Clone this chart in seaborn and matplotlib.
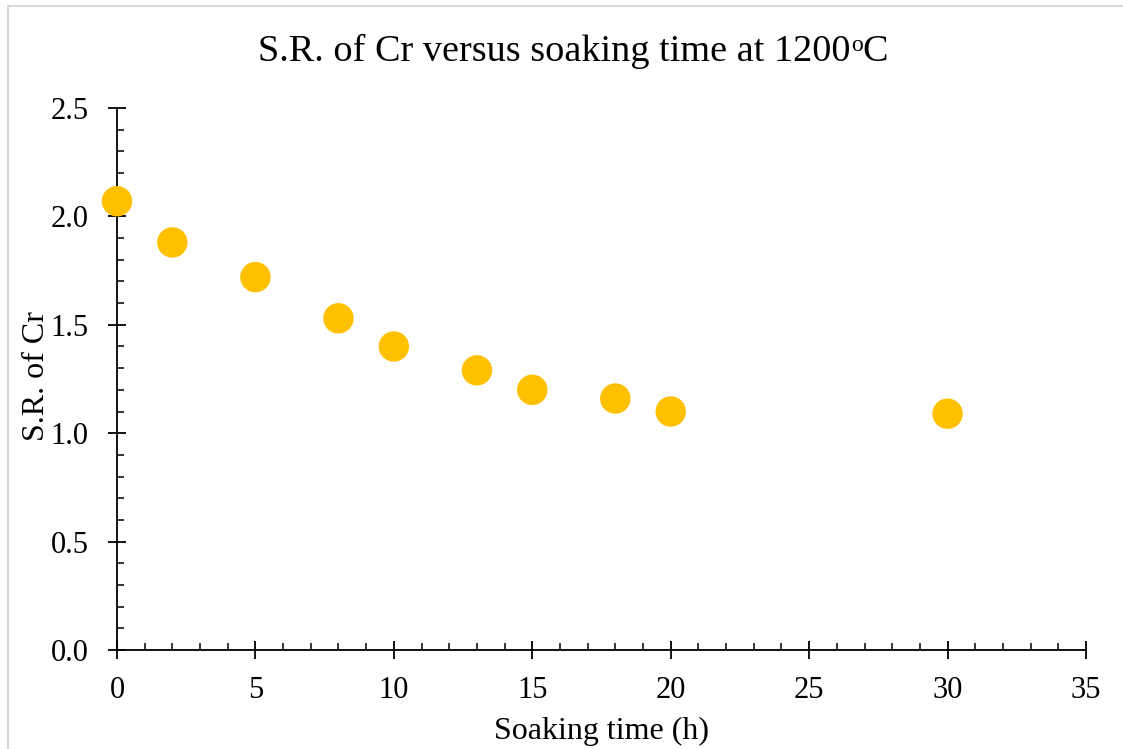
import matplotlib
matplotlib.use("Agg")
import matplotlib.pyplot as plt
import seaborn as sns
import pandas as pd
from matplotlib.ticker import MultipleLocator, FormatStrFormatter
from matplotlib.lines import Line2D

soaking_time = [0, 2, 5, 8, 10, 13, 15, 18, 20, 30]
sr_cr = [2.07, 1.88, 1.72, 1.53, 1.40, 1.29, 1.20, 1.16, 1.10, 1.09]

title_main = "S.R. of Cr versus soaking time at 1200"
title_sup = "o"
title_end = "C"
xlabel = "Soaking time (h)"
ylabel = "S.R. of Cr"

sns.set_theme(style="white")
plt.rcParams['font.family'] = ['Liberation Serif', 'DejaVu Serif']

df = pd.DataFrame({"t": soaking_time, "sr": sr_cr})

W, H = 1123, 749
fig = plt.figure(figsize=(W/100, H/100), dpi=100)
fig.patch.set_facecolor("white")
ax = fig.add_axes([117/W, 1-650/H, (1086-117)/W, (650-108)/H])

sns.scatterplot(data=df, x="t", y="sr", ax=ax, s=480, color="#FFC000",
                edgecolor="none", linewidth=0, clip_on=False, zorder=5)

ax.set_xlim(0, 35)
ax.set_ylim(0, 2.5)
ax.xaxis.set_major_locator(MultipleLocator(5))
ax.xaxis.set_minor_locator(MultipleLocator(1))
ax.yaxis.set_major_locator(MultipleLocator(0.5))
ax.yaxis.set_minor_locator(MultipleLocator(0.1))
ax.yaxis.set_major_formatter(FormatStrFormatter('%.1f'))

for s in ["top", "right"]:
    ax.spines[s].set_visible(False)
for s in ["left", "bottom"]:
    ax.spines[s].set_color("black")
    ax.spines[s].set_linewidth(1.3)

ax.tick_params(which="major", direction="inout", length=13, width=1.3,
               color="black", labelsize=22, labelcolor="black",
               bottom=True, left=True)
ax.tick_params(axis="y", which="major", pad=14)
ax.tick_params(axis="x", which="major", pad=12)
ax.tick_params(which="minor", direction="in", length=5, width=1.1,
               color="black", bottom=True, left=True)

ax.set_xlabel(xlabel, fontsize=23, color="black")
ax.set_ylabel(ylabel, fontsize=23, color="black")
ax.xaxis.set_label_coords((602-117)/(1086-117), (650-731)/(650-108))
ax.yaxis.set_label_coords((36-117)/(1086-117), (650-376)/(650-108))
ax.xaxis.label.set_va("center")
ax.yaxis.label.set_va("center")

# title composed of pieces so the small "o" sits like in the reference
renderer = fig.canvas.get_renderer()
fs_title = 27.5
t1 = fig.text(0, 0, title_main, fontsize=fs_title, color="black")
t2 = fig.text(0, 0, title_sup, fontsize=17, color="black")
t3 = fig.text(0, 0, title_end, fontsize=fs_title, color="black")
w1 = t1.get_window_extent(renderer).width
w2 = t2.get_window_extent(renderer).width
w3 = t3.get_window_extent(renderer).width
total = w1 + w2 + w3
x0 = 573 - total/2
base_y = 61  # baseline in pixels from top
t1.set_position((x0/W, 1-base_y/H)); t1.set_va("baseline")
t2.set_position(((x0+w1)/W, 1-(base_y-10)/H)); t2.set_va("baseline")
t3.set_position(((x0+w1+w2)/W, 1-base_y/H)); t3.set_va("baseline")

# partial chart border (top and left edges visible)
fig.add_artist(Line2D([7.5/W, 1.0], [1-5.5/H, 1-5.5/H],
                      transform=fig.transFigure, color="#D9D9D9", lw=1.5))
fig.add_artist(Line2D([7.5/W, 7.5/W], [0, 1-5.5/H],
                      transform=fig.transFigure, color="#D9D9D9", lw=1.5))

fig.savefig("out.png", dpi=100, facecolor="white")
